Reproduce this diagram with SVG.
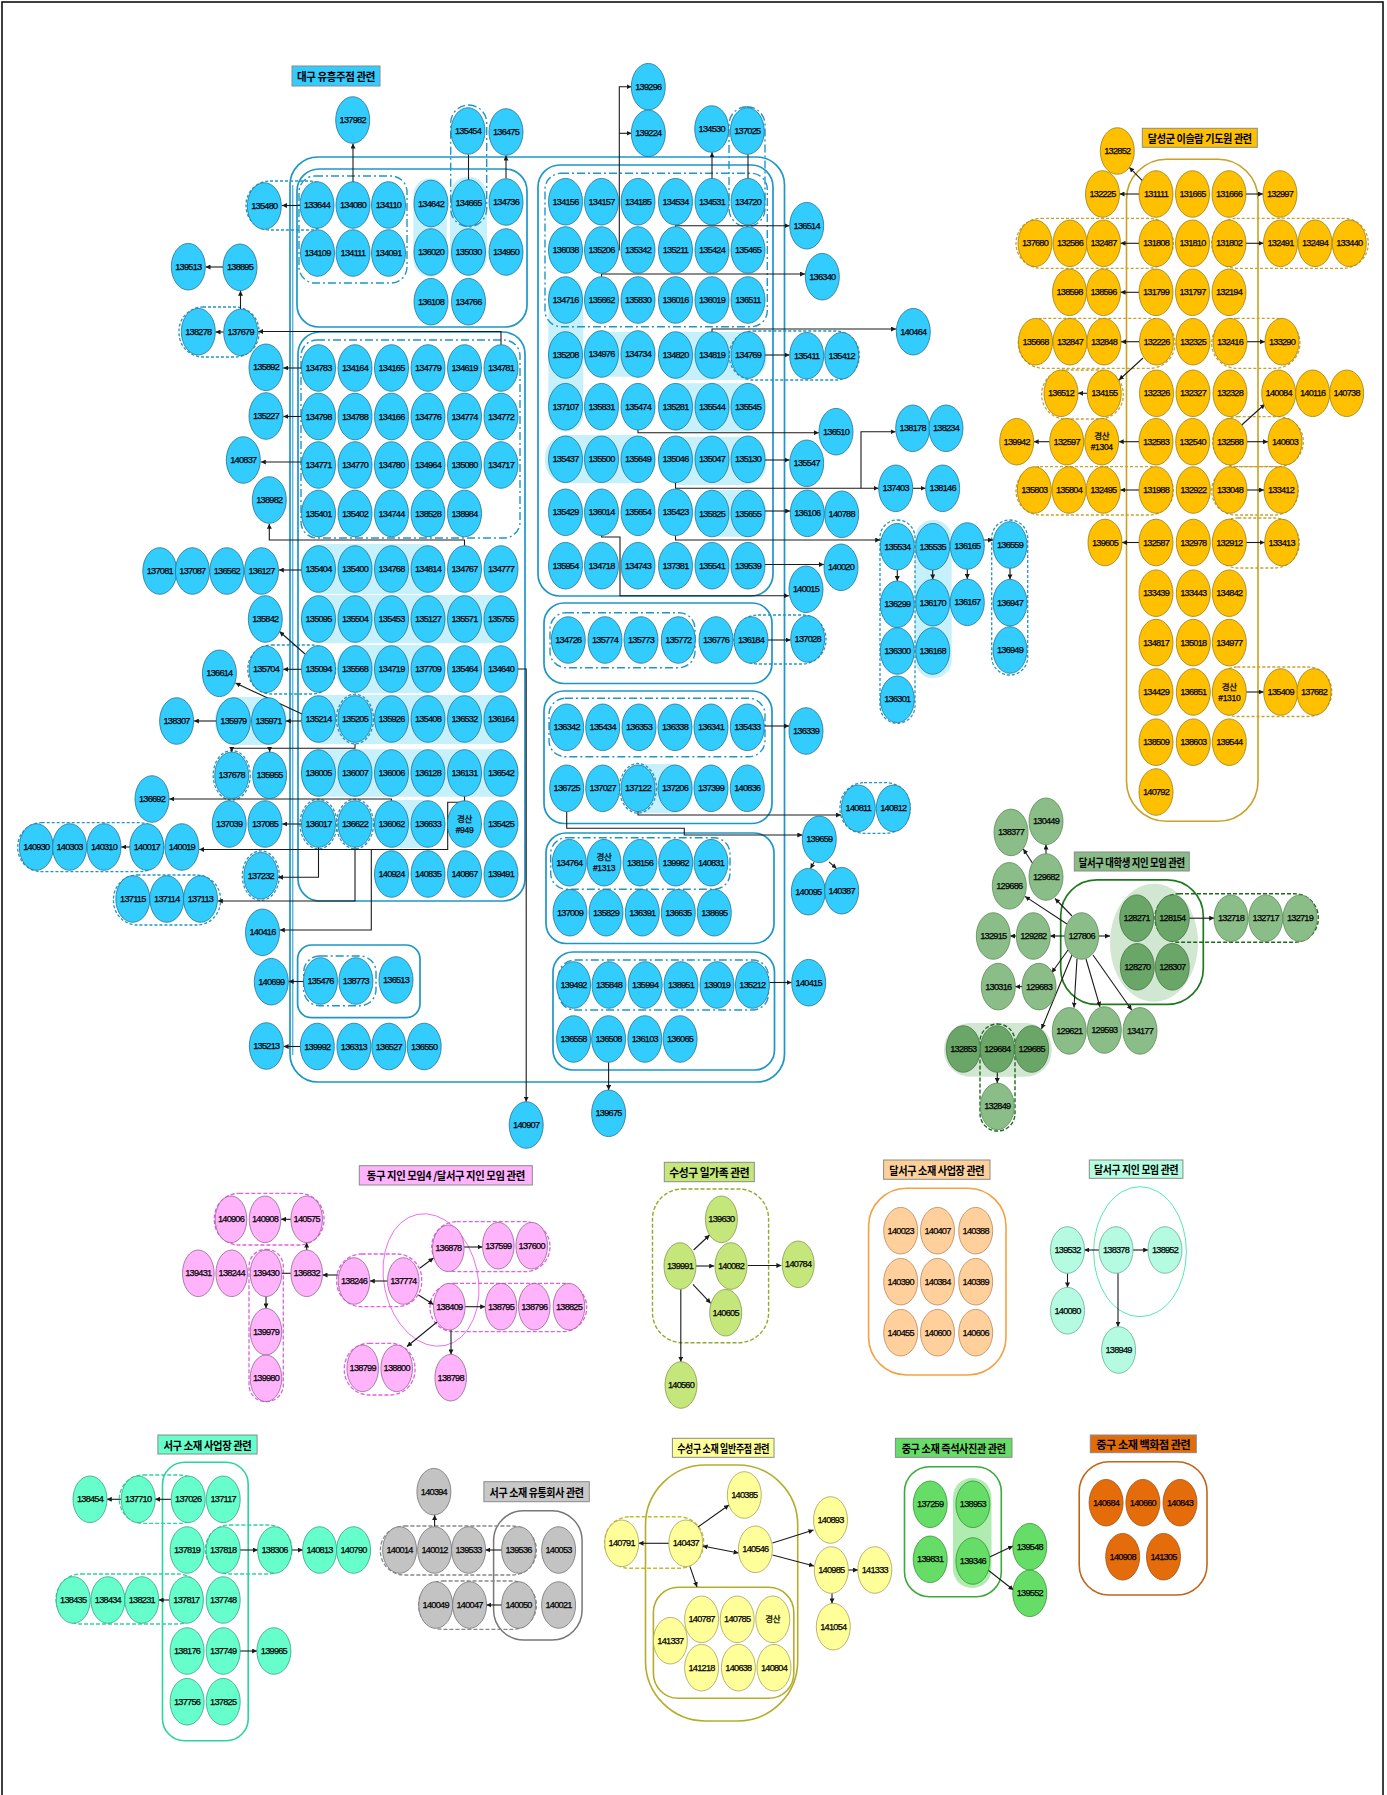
<svg xmlns="http://www.w3.org/2000/svg" width="1387" height="1795" viewBox="0 0 1387 1795">
<style>
text{font-family:"Liberation Sans","Noto Sans CJK KR",Arial,sans-serif;font-size:9.2px;letter-spacing:-0.75px;text-anchor:middle;dominant-baseline:central;fill:#000;stroke:#000;stroke-width:0.25px}
.t text{font-family:"Noto Sans CJK KR","Liberation Sans",sans-serif;font-size:11px;font-weight:700;letter-spacing:-0.4px;stroke:none}
.t rect{stroke:#8a8a8a;stroke-width:1}
.k{font-size:8.5px;letter-spacing:-0.3px}
ellipse{stroke-width:0.8}
.b ellipse{fill:#33ccff;stroke:#25728e}
.o ellipse{fill:#ffc000;stroke:#9a7e1a}
.g ellipse{fill:#8bbd88;stroke:#5a8a57}
.gd ellipse{fill:#6aa667;stroke:#467445}
.p ellipse{fill:#ffb3fb;stroke:#946494}
.yg ellipse{fill:#c5e67a;stroke:#849a46}
.pe ellipse{fill:#ffd09c;stroke:#b8885a}
.mi ellipse{fill:#b4fbe2;stroke:#64ae93}
.aq ellipse{fill:#66ffcc;stroke:#37a085}
.gr ellipse{fill:#c3c3c3;stroke:#737373}
.ye ellipse{fill:#ffff99;stroke:#a4a25a}
.gg ellipse{fill:#66dd66;stroke:#379137}
.br ellipse{fill:#e46c0a;stroke:#a05218}
.bs{fill:none;stroke:#1e96c8;stroke-width:1.7}
.bd{fill:none;stroke:#1e96c8;stroke-width:1.4;stroke-dasharray:8 3 2 3}
.bq{fill:none;stroke:#1e96c8;stroke-width:1.3;stroke-dasharray:3 2}
.sh{fill:#c6f1fc;stroke:none}
.od{fill:none;stroke:#c9a227;stroke-width:1.3;stroke-dasharray:3 2}
.pd{fill:none;stroke:#e65ce6;stroke-width:1.3;stroke-dasharray:4 2}
.ad{fill:none;stroke:#2ad69a;stroke-width:1.3;stroke-dasharray:4 2}
.gyd{fill:none;stroke:#888;stroke-width:1.3;stroke-dasharray:4 2}
.c{fill:none;stroke:#1a1a1a;stroke-width:1.1;marker-end:url(#a)}
.l{fill:none;stroke:#1a1a1a;stroke-width:1.1}
</style>
<defs>
<marker id="a" viewBox="0 0 6 6" refX="6" refY="3" markerWidth="5" markerHeight="5" orient="auto-start-reverse" markerUnits="userSpaceOnUse"><path d="M0,0L6,3L0,6z" fill="#1a1a1a"/></marker>
</defs>
<rect x="2" y="2" width="1381" height="1805" fill="#fff" stroke="#000" stroke-width="1.5"/>

<g id="groups">
<rect class="sh" x="413.3" y="178.3" width="33.4" height="98.4" rx="16.7"/>
<rect class="sh" x="450" y="176.7" width="37" height="98.3" rx="18"/>
<rect class="sh" x="300.4" y="544" width="144.5" height="50" rx="22"/>
<rect class="sh" x="300.4" y="595" width="218.2" height="48.3" rx="22"/>
<rect class="sh" x="336" y="645" width="109" height="48.3" rx="22"/>
<rect class="sh" x="300.4" y="695" width="218.2" height="49" rx="22"/>
<rect class="sh" x="300.4" y="749.3" width="218.2" height="47.4" rx="22"/>
<rect class="sh" x="373" y="800" width="72" height="48" rx="22"/>
<rect class="sh" x="215" y="697" width="72" height="48" rx="22"/>
<rect class="sh" x="548.3" y="276.7" width="35" height="155" rx="17.5"/>
<rect class="sh" x="583.3" y="331.7" width="70" height="45" rx="20"/>
<rect class="sh" x="658.3" y="331.7" width="108.4" height="48.3" rx="22"/>
<rect class="sh" x="658.3" y="383.3" width="106.7" height="48.4" rx="22"/>
<rect class="sh" x="545" y="435" width="110" height="48.3" rx="22"/>
<rect class="sh" x="658.3" y="436.7" width="108.4" height="48.3" rx="22"/>
<rect class="sh" x="696.7" y="490" width="70" height="46.7" rx="22"/>
<rect class="sh" x="621.7" y="764" width="71.6" height="49.3" rx="22"/>
<rect class="sh" x="915" y="520" width="36.7" height="158" rx="18"/>
<rect class="bs" x="290" y="157" width="494.5" height="925" rx="28"/>
<path d="M292.8 185V1055" fill="none" stroke="#1e96c8" stroke-width="1"/>
<rect class="bs" x="297" y="169" width="230" height="158" rx="22"/>
<rect class="bs" x="298" y="332" width="227" height="569" rx="22"/>
<rect class="bs" x="297.6" y="945" width="122.4" height="72.7" rx="14"/>
<rect class="bs" x="538" y="165" width="235" height="431" rx="22"/>
<rect class="bs" x="544" y="603" width="228" height="80.5" rx="20"/>
<rect class="bs" x="544" y="691" width="228" height="132.5" rx="20"/>
<rect class="bs" x="546" y="833" width="228" height="110.5" rx="20"/>
<rect class="bs" x="553" y="952" width="221.5" height="118" rx="20"/>
<rect class="bd" x="299" y="176" width="108" height="107" rx="16"/>
<rect class="bd" x="301" y="340" width="219" height="198" rx="16"/>
<rect class="bd" x="545" y="173.3" width="222.3" height="153.4" rx="16"/>
<rect class="bd" x="550" y="612.7" width="145" height="55" rx="16"/>
<rect class="bd" x="549" y="698.3" width="216" height="58.4" rx="16"/>
<rect class="bd" x="550.7" y="837.7" width="179.3" height="51.6" rx="16"/>
<rect class="bd" x="558.8" y="960" width="209.7" height="50" rx="16"/>
<rect class="bd" x="303.7" y="956" width="72.3" height="49.7" rx="16"/>
<rect class="bd" x="450.7" y="105" width="36" height="121.7" rx="18"/>
<rect class="bd" x="729" y="106.7" width="36" height="120" rx="18"/>
<rect class="bq" x="246" y="181" width="87" height="49" rx="24"/>
<rect class="bq" x="179" y="307" width="80" height="50" rx="24"/>
<rect class="bq" x="247.8" y="645" width="87.7" height="49" rx="24"/>
<rect class="bq" x="17.7" y="822.7" width="145.9" height="49" rx="24"/>
<rect class="bq" x="113.5" y="875" width="107" height="50" rx="24"/>
<rect class="bq" x="729.3" y="331" width="130" height="49" rx="24"/>
<rect class="bq" x="734" y="615" width="92" height="49" rx="24"/>
<rect class="bq" x="840" y="782.7" width="70" height="50.6" rx="24"/>
<rect class="bq" x="880" y="520" width="35" height="203.3" rx="17.5"/>
<rect class="bq" x="991.7" y="520" width="36" height="155" rx="18"/>
<ellipse class="bq" cx="355" cy="719" rx="18.5" ry="24.8"/>
<ellipse class="bq" cx="231.7" cy="775.3" rx="18.5" ry="24.8"/>
<ellipse class="bq" cx="318.5" cy="824" rx="18.5" ry="24.8"/>
<ellipse class="bq" cx="355" cy="824" rx="18.5" ry="24.8"/>
<ellipse class="bq" cx="260.8" cy="875.7" rx="18.5" ry="24.8"/>
<ellipse class="bq" cx="638" cy="788.3" rx="18.5" ry="24.8"/>
<rect x="1126.5" y="159.3" width="131.5" height="662" rx="40" fill="none" stroke="#c9a227" stroke-width="1.6"/>
<rect class="od" x="1016" y="218.3" width="157.3" height="50" rx="25"/>
<rect class="od" x="1211.7" y="218.3" width="156.6" height="50" rx="25"/>
<rect class="od" x="1018.3" y="318.3" width="156.7" height="50" rx="25"/>
<rect class="od" x="1211.7" y="318.3" width="88.3" height="50" rx="25"/>
<rect class="od" x="1041.7" y="370" width="81.6" height="49" rx="24"/>
<rect class="od" x="1212.7" y="416.7" width="90.6" height="50" rx="25"/>
<rect class="od" x="1016" y="466.7" width="157.3" height="48.3" rx="24"/>
<rect class="od" x="1211.7" y="466.7" width="86.6" height="48.3" rx="24"/>
<rect class="od" x="1213.3" y="518" width="86" height="50" rx="25"/>
<rect class="od" x="1213.3" y="667" width="118.4" height="49.5" rx="24"/>
<rect x="944" y="1023" width="107.7" height="53.7" rx="26" fill="#d2e7d1"/>
<ellipse cx="1154" cy="942.7" rx="44" ry="59" fill="#d2e7d1"/>
<rect x="1060.7" y="879.8" width="142.6" height="124.6" rx="36" fill="none" stroke="#1f7a1f" stroke-width="1.7"/>
<rect x="1155" y="893.7" width="163.3" height="48.6" rx="24" fill="none" stroke="#1a6b1a" stroke-width="1.4" stroke-dasharray="4 2"/>
<rect x="980" y="1024" width="35" height="107" rx="17.5" fill="none" stroke="#1a6b1a" stroke-width="1.4" stroke-dasharray="4 2"/>
<ellipse cx="431" cy="1280" rx="47" ry="67" fill="none" stroke="#ee55ee" stroke-width="1.5" transform="rotate(-12 431 1280)"/>
<rect class="pd" x="214.3" y="1193.3" width="109.7" height="51.7" rx="25"/>
<rect class="pd" x="249" y="1249.3" width="34.3" height="152.4" rx="17"/>
<rect class="pd" x="336.7" y="1254" width="85" height="52.7" rx="25"/>
<rect class="pd" x="431.7" y="1221.7" width="118.3" height="50" rx="25"/>
<rect class="pd" x="430" y="1283.3" width="156.7" height="48.4" rx="24"/>
<rect class="pd" x="344.3" y="1343.3" width="70.7" height="51.7" rx="25"/>
<rect x="652.5" y="1189" width="116.1" height="153.7" rx="30" fill="none" stroke="#8faa2a" stroke-width="1.4" stroke-dasharray="4 2"/>
<rect x="868.6" y="1188.3" width="137.4" height="186.7" rx="38" fill="none" stroke="#f5a142" stroke-width="1.6"/>
<ellipse cx="1140" cy="1251.7" rx="46.4" ry="65" fill="none" stroke="#22e69a" stroke-width="1.6"/>
<rect x="162.5" y="1462.3" width="85.7" height="278.4" rx="22" fill="none" stroke="#2ad69a" stroke-width="1.6"/>
<rect class="ad" x="119.3" y="1475" width="84.3" height="48.3" rx="24"/>
<rect class="ad" x="205.4" y="1525" width="86.4" height="49" rx="24"/>
<rect class="ad" x="56" y="1574" width="146.5" height="50" rx="25"/>
<rect x="493.6" y="1510.7" width="88.5" height="129.3" rx="30" fill="none" stroke="#777" stroke-width="1.5"/>
<rect class="gyd" x="380.4" y="1526" width="156" height="49" rx="24"/>
<rect class="gyd" x="418.6" y="1581" width="117.8" height="48.3" rx="24"/>
<rect x="645.5" y="1465" width="152.2" height="256" rx="60" fill="none" stroke="#b5ad2a" stroke-width="1.6"/>
<rect x="653.4" y="1587.3" width="140.4" height="111" rx="25" fill="none" stroke="#b5ad2a" stroke-width="1.6"/>
<rect x="604.7" y="1516.7" width="98.9" height="51.6" rx="25" fill="none" stroke="#c4bb2a" stroke-width="1.4" stroke-dasharray="4 2"/>
<rect x="953" y="1478" width="38.5" height="110" rx="19" fill="#b0ecb0"/>
<rect x="904.5" y="1466.7" width="96.8" height="130" rx="25" fill="none" stroke="#3aaa3a" stroke-width="1.6"/>
<rect x="1079.2" y="1461.7" width="127.8" height="133.3" rx="30" fill="none" stroke="#c0661a" stroke-width="1.6"/>
</g>

<g id="connectors">
<path class="c" d="M300 205.5H282"/>
<path class="c" d="M353 182V143.5"/>
<path class="l" d="M468.5 180V154.5"/>
<path class="c" d="M506 178.5V155.5"/>
<path class="c" d="M223 267H205.5"/>
<path class="c" d="M223.7 332H215.5"/>
<path class="c" d="M240.5 309V290.8"/>
<path class="c" d="M501 344.7V331.5H258.2"/>
<path class="c" d="M301.5 368H283.3"/>
<path class="c" d="M301.5 416.5H283.3"/>
<path class="c" d="M301.5 462H260.8"/>
<path class="c" d="M464.5 545.7V540H269.3V523.8"/>
<path class="c" d="M618.5 250H619.3V86.7H631.5"/>
<path class="c" d="M619.3 133.3H631.5"/>
<path class="c" d="M712 178.4V152.3"/>
<path class="l" d="M748 178.4V154.3"/>
<path class="c" d="M675.5 226.7V225.7H789.5"/>
<path class="c" d="M601.5 276.7V274H805"/>
<path class="c" d="M712 331.7V329H896"/>
<path class="c" d="M765 355H789.5"/>
<path class="c" d="M638 430V432.7H818.8"/>
<path class="c" d="M765 460H789.5"/>
<path class="c" d="M675.5 482.6V488.3H878.5"/>
<path class="c" d="M861 488.3V431.7H895.5"/>
<path class="c" d="M912.8 488.3H925.5"/>
<path class="c" d="M765 511H790.2"/>
<path class="c" d="M675.5 535.6V540H880.2"/>
<path class="c" d="M601.5 535.6V537H620V595.7H789"/>
<path class="c" d="M765 564.5H823.9"/>
<path class="c" d="M897.3 570V581"/>
<path class="c" d="M932.7 570V579.4"/>
<path class="c" d="M967.3 569.3V579"/>
<path class="c" d="M1010 568.3V579.4"/>
<path class="c" d="M984.2 540H993"/>
<path class="c" d="M768 640H790.7"/>
<path class="c" d="M764.3 726H789"/>
<path class="c" d="M638 811.6V815H841"/>
<path class="c" d="M566.7 811.6V828.3H684.3V835H802.3"/>
<path class="c" d="M814 862.3L810.5 868.6"/>
<path class="c" d="M829 861.8L836.5 868.6"/>
<path class="c" d="M769.4 982.5H791.7"/>
<path class="c" d="M608.6 1062.3V1090"/>
<path class="c" d="M518 669H526.2V1101.7"/>
<path class="c" d="M301.5 570H278.8"/>
<path class="c" d="M305 654L279.5 631.5"/>
<path class="c" d="M301.5 669.3H283.3"/>
<path class="c" d="M302 714L235.5 683"/>
<path class="c" d="M301.5 721H285.8"/>
<path class="c" d="M216.6 721H193.9"/>
<path class="c" d="M355 743.8V748.3H231.7V751.9"/>
<path class="c" d="M269.6 748.3V751.9"/>
<path class="c" d="M391.5 800.7V799H169.3"/>
<path class="c" d="M301.5 824H282.3"/>
<path class="c" d="M130 847H121.3"/>
<path class="c" d="M464.5 796.3V802.3H447.7V849.5H199.2"/>
<path class="c" d="M371.3 849.5V930H279.8"/>
<path class="c" d="M355 847.3V901H217.8"/>
<path class="c" d="M318.5 847.3V877.3H278.1"/>
<path class="c" d="M303.7 981.5H288.6"/>
<path class="c" d="M300.5 1046.5H283.6"/>
<path class="c" d="M1143.3 181.7L1129.3 167.3"/>
<path class="c" d="M1139 194H1119.5"/>
<path class="c" d="M1246 194H1263"/>
<path class="c" d="M1139 243.3H1120.5"/>
<path class="c" d="M1246 243.3H1263.5"/>
<path class="c" d="M1139 292.3H1120.5"/>
<path class="c" d="M1139.5 341.7H1121"/>
<path class="c" d="M1247 341.7H1265"/>
<path class="c" d="M1143 358L1119 380"/>
<path class="c" d="M1087.3 393.3H1078"/>
<path class="c" d="M1241.7 425L1265 404"/>
<path class="c" d="M1247 441.7H1268"/>
<path class="c" d="M1139 441.7H1118.7"/>
<path class="c" d="M1049.7 441.7H1033.7"/>
<path class="c" d="M1139 490H1120.3"/>
<path class="c" d="M1247 490H1264"/>
<path class="c" d="M1139 542.5H1122"/>
<path class="c" d="M1246.3 542.5H1264.7"/>
<path class="c" d="M1246.3 692H1263.7"/>
<path class="c" d="M1064.9 936H1050.1"/>
<path class="c" d="M1067 924L1025 896.4"/>
<path class="c" d="M1072 916L1055 898.5"/>
<path class="c" d="M1068 950L1051.7 972.7"/>
<path class="c" d="M1072 955L1041.5 1029"/>
<path class="c" d="M1077 959L1074 1007.6"/>
<path class="c" d="M1086 959L1100 1006.8"/>
<path class="c" d="M1093 955L1131.7 1010"/>
<path class="c" d="M1098.5 936H1110"/>
<path class="c" d="M1035 867L1023.3 849"/>
<path class="c" d="M1046 853.7V844.6"/>
<path class="c" d="M1016.5 936H1010.1"/>
<path class="c" d="M1022.2 986.6H1015.1"/>
<path class="c" d="M997.3 1072.3V1083.1"/>
<path class="c" d="M1189.1 918.2H1214.2"/>
<path class="c" d="M290.9 1219.3H281"/>
<path class="c" d="M306.7 1250V1242.6"/>
<path class="l" d="M290.9 1273.3H281.8"/>
<path class="c" d="M266 1296.6V1308.4"/>
<path class="c" d="M338.2 1275H322.5"/>
<path class="c" d="M387.5 1281H369.8"/>
<path class="c" d="M420 1268L433.5 1258"/>
<path class="c" d="M418.5 1295L433.5 1304.5"/>
<path class="c" d="M464.1 1247H482.5"/>
<path class="c" d="M465.1 1306.7H485.2"/>
<path class="c" d="M437 1322L407 1346.5"/>
<path class="c" d="M451 1330V1354.4"/>
<path class="c" d="M693.6 1250L709.6 1235"/>
<path class="c" d="M696 1266H714.2"/>
<path class="c" d="M692.9 1284.3L710.7 1303.3"/>
<path class="c" d="M747.8 1265.5H781.4"/>
<path class="c" d="M680.8 1289.3V1361.7"/>
<path class="c" d="M1099.2 1250H1084.3"/>
<path class="c" d="M1132.8 1250H1148.2"/>
<path class="c" d="M1067.5 1273.3V1287.4"/>
<path class="c" d="M1118 1273.3V1326.7"/>
<path class="c" d="M171.4 1499.3H155"/>
<path class="c" d="M121.4 1499.3H106.8"/>
<path class="c" d="M240 1550H257.8"/>
<path class="c" d="M291.4 1550H302.8"/>
<path class="c" d="M169.6 1600H158.6"/>
<path class="c" d="M240 1651H257.1"/>
<path class="c" d="M434.6 1526.7V1515"/>
<path class="c" d="M501.8 1550H485.4"/>
<path class="c" d="M501.8 1605H486.4"/>
<path class="c" d="M669 1543.3H638.5"/>
<path class="c" d="M698 1527L729 1505"/>
<path class="c" d="M702.6 1546L738.6 1553" marker-start="url(#a)"/>
<path class="c" d="M690 1566.6L697 1587"/>
<path class="c" d="M772.5 1543L813.5 1530"/>
<path class="c" d="M772.5 1555L814 1566"/>
<path class="c" d="M848 1570H858"/>
<path class="c" d="M832 1593.3V1603.4"/>
<path class="c" d="M989.7 1557L1013 1546"/>
<path class="c" d="M988 1570L1013.5 1590"/>
</g>

<g id="titles" class="t">
<g id="t1"><rect x="292" y="66" width="88" height="20" fill="#33ccff"/><text x="336" y="76" textLength="78" lengthAdjust="spacingAndGlyphs">대구 유흥주점 관련</text></g>
<g id="t2"><rect x="1142.3" y="128.3" width="115" height="19" fill="#ffc000"/><text x="1199.8" y="137.8" textLength="104" lengthAdjust="spacingAndGlyphs">달성군 이슬람 기도원 관련</text></g>
<g id="t3"><rect x="1074.3" y="852" width="115" height="19" fill="#88bb88"/><text x="1131.8" y="861.5" textLength="106" lengthAdjust="spacingAndGlyphs">달서구 대학생 지인 모임 관련</text></g>
<g id="t4"><rect x="359.3" y="1165.7" width="173" height="19.3" fill="#ffb3ff"/><text x="445.8" y="1175.3" textLength="158" lengthAdjust="spacingAndGlyphs">동구 지인 모임4 /달서구 지인 모임 관련</text></g>
<g id="t5"><rect x="664.3" y="1162.3" width="90" height="19.4" fill="#c5e67a"/><text x="709.3" y="1172" textLength="80" lengthAdjust="spacingAndGlyphs">수성구 일가족 관련</text></g>
<g id="t6"><rect x="883.6" y="1160" width="106.4" height="19.3" fill="#fdd09a"/><text x="936.8" y="1169.7" textLength="95" lengthAdjust="spacingAndGlyphs">달서구 소재 사업장 관련</text></g>
<g id="t7"><rect x="1089.3" y="1160" width="93.6" height="18.3" fill="#b3ffe0"/><text x="1136.1" y="1169.2" textLength="84" lengthAdjust="spacingAndGlyphs">달서구 지인 모임 관련</text></g>
<g id="t8"><rect x="157.9" y="1435" width="99.2" height="19" fill="#66ffcc"/><text x="207.5" y="1444.5" textLength="88" lengthAdjust="spacingAndGlyphs">서구 소재 사업장 관련</text></g>
<g id="t9"><rect x="483.9" y="1481.7" width="105.4" height="20" fill="#c8c8c8"/><text x="536.6" y="1491.7" textLength="94" lengthAdjust="spacingAndGlyphs">서구 소재 유통회사 관련</text></g>
<g id="t10"><rect x="672.4" y="1438.3" width="101.6" height="19" fill="#ffff99"/><text x="723.2" y="1447.8" textLength="92" lengthAdjust="spacingAndGlyphs">수성구 소재 일반주점 관련</text></g>
<g id="t11"><rect x="895.4" y="1438.3" width="116.6" height="19" fill="#66dd66"/><text x="953.7" y="1447.8" textLength="104" lengthAdjust="spacingAndGlyphs">중구 소재 즉석사진관 관련</text></g>
<g id="t12"><rect x="1090.3" y="1435" width="106" height="17.7" fill="#e36c0a"/><text x="1143.3" y="1443.8" textLength="94" lengthAdjust="spacingAndGlyphs">중구 소재 백화점 관련</text></g>
</g>

<g id="nodes-blue" class="b">
<g id="n133644"><ellipse cx="317" cy="205" rx="17" ry="23.3"/><text x="317" y="205">133644</text></g>
<g id="n134080"><ellipse cx="353" cy="205" rx="17" ry="23.3"/><text x="353" y="205">134080</text></g>
<g id="n134110"><ellipse cx="388.5" cy="205" rx="17" ry="23.3"/><text x="388.5" y="205">134110</text></g>
<g id="n134642"><ellipse cx="431" cy="203.5" rx="17" ry="23.3"/><text x="431" y="203.5">134642</text></g>
<g id="n134665"><ellipse cx="468.5" cy="203" rx="17" ry="23.3"/><text x="468.5" y="203">134665</text></g>
<g id="n134736"><ellipse cx="506" cy="202" rx="17" ry="23.3"/><text x="506" y="202">134736</text></g>
<g id="n134109"><ellipse cx="317.5" cy="253" rx="17" ry="23.3"/><text x="317.5" y="253">134109</text></g>
<g id="n134111"><ellipse cx="353" cy="253" rx="17" ry="23.3"/><text x="353" y="253">134111</text></g>
<g id="n134091"><ellipse cx="388.5" cy="253" rx="17" ry="23.3"/><text x="388.5" y="253">134091</text></g>
<g id="n136020"><ellipse cx="431" cy="252" rx="17" ry="23.3"/><text x="431" y="252">136020</text></g>
<g id="n135030"><ellipse cx="468.5" cy="252" rx="17" ry="23.3"/><text x="468.5" y="252">135030</text></g>
<g id="n134950"><ellipse cx="506" cy="252" rx="17" ry="23.3"/><text x="506" y="252">134950</text></g>
<g id="n136108"><ellipse cx="431" cy="301.7" rx="17" ry="23.3"/><text x="431" y="301.7">136108</text></g>
<g id="n134766"><ellipse cx="468.5" cy="301.7" rx="17" ry="23.3"/><text x="468.5" y="301.7">134766</text></g>
<g id="n137982"><ellipse cx="352.7" cy="120" rx="17" ry="23.3"/><text x="352.7" y="120">137982</text></g>
<g id="n135454"><ellipse cx="468" cy="131" rx="17" ry="23.3"/><text x="468" y="131">135454</text></g>
<g id="n136475"><ellipse cx="506" cy="132" rx="17" ry="23.3"/><text x="506" y="132">136475</text></g>
<g id="n135480"><ellipse cx="264.3" cy="206" rx="17" ry="23.3"/><text x="264.3" y="206">135480</text></g>
<g id="n139513"><ellipse cx="188.3" cy="266.7" rx="17" ry="23.3"/><text x="188.3" y="266.7">139513</text></g>
<g id="n138895"><ellipse cx="240" cy="267.3" rx="17" ry="23.3"/><text x="240" y="267.3">138895</text></g>
<g id="n138278"><ellipse cx="198.3" cy="331.7" rx="17" ry="23.3"/><text x="198.3" y="331.7">138278</text></g>
<g id="n137679"><ellipse cx="240.7" cy="332.3" rx="17" ry="23.3"/><text x="240.7" y="332.3">137679</text></g>
<g id="n135892"><ellipse cx="266" cy="367.3" rx="17" ry="23.3"/><text x="266" y="367.3">135892</text></g>
<g id="n135227"><ellipse cx="266" cy="416" rx="17" ry="23.3"/><text x="266" y="416">135227</text></g>
<g id="n140837"><ellipse cx="243.3" cy="460" rx="17" ry="23.3"/><text x="243.3" y="460">140837</text></g>
<g id="n138982"><ellipse cx="269.3" cy="500" rx="17" ry="23.3"/><text x="269.3" y="500">138982</text></g>
<g id="n134783"><ellipse cx="318.5" cy="368" rx="17" ry="23.3"/><text x="318.5" y="368">134783</text></g>
<g id="n134164"><ellipse cx="355" cy="368" rx="17" ry="23.3"/><text x="355" y="368">134164</text></g>
<g id="n134165"><ellipse cx="391.5" cy="368" rx="17" ry="23.3"/><text x="391.5" y="368">134165</text></g>
<g id="n134779"><ellipse cx="428" cy="368" rx="17" ry="23.3"/><text x="428" y="368">134779</text></g>
<g id="n134619"><ellipse cx="464.5" cy="368" rx="17" ry="23.3"/><text x="464.5" y="368">134619</text></g>
<g id="n134781"><ellipse cx="501" cy="368" rx="17" ry="23.3"/><text x="501" y="368">134781</text></g>
<g id="n134798"><ellipse cx="318.5" cy="416.5" rx="17" ry="23.3"/><text x="318.5" y="416.5">134798</text></g>
<g id="n134788"><ellipse cx="355" cy="416.5" rx="17" ry="23.3"/><text x="355" y="416.5">134788</text></g>
<g id="n134166"><ellipse cx="391.5" cy="416.5" rx="17" ry="23.3"/><text x="391.5" y="416.5">134166</text></g>
<g id="n134776"><ellipse cx="428" cy="416.5" rx="17" ry="23.3"/><text x="428" y="416.5">134776</text></g>
<g id="n134774"><ellipse cx="464.5" cy="416.5" rx="17" ry="23.3"/><text x="464.5" y="416.5">134774</text></g>
<g id="n134772"><ellipse cx="501" cy="416.5" rx="17" ry="23.3"/><text x="501" y="416.5">134772</text></g>
<g id="n134771"><ellipse cx="318.5" cy="465" rx="17" ry="23.3"/><text x="318.5" y="465">134771</text></g>
<g id="n134770"><ellipse cx="355" cy="465" rx="17" ry="23.3"/><text x="355" y="465">134770</text></g>
<g id="n134780"><ellipse cx="391.5" cy="465" rx="17" ry="23.3"/><text x="391.5" y="465">134780</text></g>
<g id="n134964"><ellipse cx="428" cy="465" rx="17" ry="23.3"/><text x="428" y="465">134964</text></g>
<g id="n135080"><ellipse cx="464.5" cy="465" rx="17" ry="23.3"/><text x="464.5" y="465">135080</text></g>
<g id="n134717"><ellipse cx="501" cy="465" rx="17" ry="23.3"/><text x="501" y="465">134717</text></g>
<g id="n135401"><ellipse cx="318.5" cy="513.5" rx="17" ry="23.3"/><text x="318.5" y="513.5">135401</text></g>
<g id="n135402"><ellipse cx="355" cy="513.5" rx="17" ry="23.3"/><text x="355" y="513.5">135402</text></g>
<g id="n134744"><ellipse cx="391.5" cy="513.5" rx="17" ry="23.3"/><text x="391.5" y="513.5">134744</text></g>
<g id="n138528"><ellipse cx="428" cy="513.5" rx="17" ry="23.3"/><text x="428" y="513.5">138528</text></g>
<g id="n138984"><ellipse cx="464.5" cy="513.5" rx="17" ry="23.3"/><text x="464.5" y="513.5">138984</text></g>
<g id="n135404"><ellipse cx="318.5" cy="569" rx="17" ry="23.3"/><text x="318.5" y="569">135404</text></g>
<g id="n135400"><ellipse cx="355" cy="569" rx="17" ry="23.3"/><text x="355" y="569">135400</text></g>
<g id="n134768"><ellipse cx="391.5" cy="569" rx="17" ry="23.3"/><text x="391.5" y="569">134768</text></g>
<g id="n134814"><ellipse cx="428" cy="569" rx="17" ry="23.3"/><text x="428" y="569">134814</text></g>
<g id="n134767"><ellipse cx="464.5" cy="569" rx="17" ry="23.3"/><text x="464.5" y="569">134767</text></g>
<g id="n134777"><ellipse cx="501" cy="569" rx="17" ry="23.3"/><text x="501" y="569">134777</text></g>
<g id="n135095"><ellipse cx="318.5" cy="619" rx="17" ry="23.3"/><text x="318.5" y="619">135095</text></g>
<g id="n135504"><ellipse cx="355" cy="619" rx="17" ry="23.3"/><text x="355" y="619">135504</text></g>
<g id="n135453"><ellipse cx="391.5" cy="619" rx="17" ry="23.3"/><text x="391.5" y="619">135453</text></g>
<g id="n135127"><ellipse cx="428" cy="619" rx="17" ry="23.3"/><text x="428" y="619">135127</text></g>
<g id="n135571"><ellipse cx="464.5" cy="619" rx="17" ry="23.3"/><text x="464.5" y="619">135571</text></g>
<g id="n135755"><ellipse cx="501" cy="619" rx="17" ry="23.3"/><text x="501" y="619">135755</text></g>
<g id="n135094"><ellipse cx="318.5" cy="669" rx="17" ry="23.3"/><text x="318.5" y="669">135094</text></g>
<g id="n135568"><ellipse cx="355" cy="669" rx="17" ry="23.3"/><text x="355" y="669">135568</text></g>
<g id="n134719"><ellipse cx="391.5" cy="669" rx="17" ry="23.3"/><text x="391.5" y="669">134719</text></g>
<g id="n137709"><ellipse cx="428" cy="669" rx="17" ry="23.3"/><text x="428" y="669">137709</text></g>
<g id="n135464"><ellipse cx="464.5" cy="669" rx="17" ry="23.3"/><text x="464.5" y="669">135464</text></g>
<g id="n134640"><ellipse cx="501" cy="669" rx="17" ry="23.3"/><text x="501" y="669">134640</text></g>
<g id="n135214"><ellipse cx="318.5" cy="719" rx="17" ry="23.3"/><text x="318.5" y="719">135214</text></g>
<g id="n135205"><ellipse cx="355" cy="719" rx="17" ry="23.3"/><text x="355" y="719">135205</text></g>
<g id="n135926"><ellipse cx="391.5" cy="719" rx="17" ry="23.3"/><text x="391.5" y="719">135926</text></g>
<g id="n135408"><ellipse cx="428" cy="719" rx="17" ry="23.3"/><text x="428" y="719">135408</text></g>
<g id="n136532"><ellipse cx="464.5" cy="719" rx="17" ry="23.3"/><text x="464.5" y="719">136532</text></g>
<g id="n136164"><ellipse cx="501" cy="719" rx="17" ry="23.3"/><text x="501" y="719">136164</text></g>
<g id="n136005"><ellipse cx="318.5" cy="773" rx="17" ry="23.3"/><text x="318.5" y="773">136005</text></g>
<g id="n136007"><ellipse cx="355" cy="773" rx="17" ry="23.3"/><text x="355" y="773">136007</text></g>
<g id="n136006"><ellipse cx="391.5" cy="773" rx="17" ry="23.3"/><text x="391.5" y="773">136006</text></g>
<g id="n136128"><ellipse cx="428" cy="773" rx="17" ry="23.3"/><text x="428" y="773">136128</text></g>
<g id="n136131"><ellipse cx="464.5" cy="773" rx="17" ry="23.3"/><text x="464.5" y="773">136131</text></g>
<g id="n136542"><ellipse cx="501" cy="773" rx="17" ry="23.3"/><text x="501" y="773">136542</text></g>
<g id="n136017"><ellipse cx="318.5" cy="824" rx="17" ry="23.3"/><text x="318.5" y="824">136017</text></g>
<g id="n136622"><ellipse cx="355" cy="824" rx="17" ry="23.3"/><text x="355" y="824">136622</text></g>
<g id="n136062"><ellipse cx="391.5" cy="824" rx="17" ry="23.3"/><text x="391.5" y="824">136062</text></g>
<g id="n136633"><ellipse cx="428" cy="824" rx="17" ry="23.3"/><text x="428" y="824">136633</text></g>
<g id="nks949"><ellipse cx="464.5" cy="824" rx="17" ry="23.3"/><text class="k" x="464.5" y="824"><tspan x="464.5" dy="-5.5">경산</tspan><tspan x="464.5" dy="11">#949</tspan></text></g>
<g id="n135425"><ellipse cx="501" cy="824" rx="17" ry="23.3"/><text x="501" y="824">135425</text></g>
<g id="n140924"><ellipse cx="391.5" cy="874" rx="17" ry="23.3"/><text x="391.5" y="874">140924</text></g>
<g id="n140835"><ellipse cx="428" cy="874" rx="17" ry="23.3"/><text x="428" y="874">140835</text></g>
<g id="n140867"><ellipse cx="464.5" cy="874" rx="17" ry="23.3"/><text x="464.5" y="874">140867</text></g>
<g id="n139491"><ellipse cx="501" cy="874" rx="17" ry="23.3"/><text x="501" y="874">139491</text></g>
<g id="n137081"><ellipse cx="159.8" cy="571" rx="17" ry="23.3"/><text x="159.8" y="571">137081</text></g>
<g id="n137087"><ellipse cx="192.4" cy="571" rx="17" ry="23.3"/><text x="192.4" y="571">137087</text></g>
<g id="n136562"><ellipse cx="226.8" cy="571" rx="17" ry="23.3"/><text x="226.8" y="571">136562</text></g>
<g id="n136127"><ellipse cx="261.5" cy="571" rx="17" ry="23.3"/><text x="261.5" y="571">136127</text></g>
<g id="n135842"><ellipse cx="265.3" cy="619" rx="17" ry="23.3"/><text x="265.3" y="619">135842</text></g>
<g id="n135704"><ellipse cx="266" cy="669.3" rx="17" ry="23.3"/><text x="266" y="669.3">135704</text></g>
<g id="n136614"><ellipse cx="219.4" cy="673.3" rx="17" ry="23.3"/><text x="219.4" y="673.3">136614</text></g>
<g id="n138307"><ellipse cx="176.6" cy="721" rx="17" ry="23.3"/><text x="176.6" y="721">138307</text></g>
<g id="n135979"><ellipse cx="233.4" cy="721" rx="17" ry="23.3"/><text x="233.4" y="721">135979</text></g>
<g id="n135971"><ellipse cx="268.5" cy="721" rx="17" ry="23.3"/><text x="268.5" y="721">135971</text></g>
<g id="n137678"><ellipse cx="231.7" cy="775.3" rx="17" ry="23.3"/><text x="231.7" y="775.3">137678</text></g>
<g id="n135955"><ellipse cx="269.6" cy="775.3" rx="17" ry="23.3"/><text x="269.6" y="775.3">135955</text></g>
<g id="n136692"><ellipse cx="152" cy="799" rx="17" ry="23.3"/><text x="152" y="799">136692</text></g>
<g id="n137039"><ellipse cx="229.2" cy="824" rx="17" ry="23.3"/><text x="229.2" y="824">137039</text></g>
<g id="n137085"><ellipse cx="265" cy="824" rx="17" ry="23.3"/><text x="265" y="824">137085</text></g>
<g id="n140930"><ellipse cx="36.3" cy="847" rx="17" ry="23.3"/><text x="36.3" y="847">140930</text></g>
<g id="n140303"><ellipse cx="69.6" cy="847" rx="17" ry="23.3"/><text x="69.6" y="847">140303</text></g>
<g id="n140310"><ellipse cx="104" cy="847" rx="17" ry="23.3"/><text x="104" y="847">140310</text></g>
<g id="n140017"><ellipse cx="146.8" cy="847" rx="17" ry="23.3"/><text x="146.8" y="847">140017</text></g>
<g id="n140019"><ellipse cx="181.9" cy="847" rx="17" ry="23.3"/><text x="181.9" y="847">140019</text></g>
<g id="n137232"><ellipse cx="260.8" cy="875.7" rx="17" ry="23.3"/><text x="260.8" y="875.7">137232</text></g>
<g id="n137115"><ellipse cx="132.8" cy="899" rx="17" ry="23.3"/><text x="132.8" y="899">137115</text></g>
<g id="n137114"><ellipse cx="166.8" cy="899" rx="17" ry="23.3"/><text x="166.8" y="899">137114</text></g>
<g id="n137113"><ellipse cx="200.5" cy="899" rx="17" ry="23.3"/><text x="200.5" y="899">137113</text></g>
<g id="n140416"><ellipse cx="262.5" cy="932.3" rx="17" ry="23.3"/><text x="262.5" y="932.3">140416</text></g>
<g id="n140699"><ellipse cx="271.3" cy="981.7" rx="17" ry="23.3"/><text x="271.3" y="981.7">140699</text></g>
<g id="n135476"><ellipse cx="320.5" cy="981" rx="17" ry="23.3"/><text x="320.5" y="981">135476</text></g>
<g id="n138773"><ellipse cx="355.9" cy="981" rx="17" ry="23.3"/><text x="355.9" y="981">138773</text></g>
<g id="n136513"><ellipse cx="396" cy="980" rx="17" ry="23.3"/><text x="396" y="980">136513</text></g>
<g id="n135213"><ellipse cx="266.3" cy="1046" rx="17" ry="23.3"/><text x="266.3" y="1046">135213</text></g>
<g id="n139992"><ellipse cx="317.3" cy="1046.5" rx="17" ry="23.3"/><text x="317.3" y="1046.5">139992</text></g>
<g id="n136313"><ellipse cx="353.9" cy="1046.5" rx="17" ry="23.3"/><text x="353.9" y="1046.5">136313</text></g>
<g id="n136527"><ellipse cx="388.8" cy="1046.5" rx="17" ry="23.3"/><text x="388.8" y="1046.5">136527</text></g>
<g id="n136550"><ellipse cx="424.2" cy="1046.5" rx="17" ry="23.3"/><text x="424.2" y="1046.5">136550</text></g>
<g id="n140907"><ellipse cx="526.2" cy="1125" rx="17" ry="23.3"/><text x="526.2" y="1125">140907</text></g>
<g id="n134156"><ellipse cx="565.5" cy="201.7" rx="17" ry="23.3"/><text x="565.5" y="201.7">134156</text></g>
<g id="n134157"><ellipse cx="601.5" cy="201.7" rx="17" ry="23.3"/><text x="601.5" y="201.7">134157</text></g>
<g id="n134185"><ellipse cx="638" cy="201.7" rx="17" ry="23.3"/><text x="638" y="201.7">134185</text></g>
<g id="n134534"><ellipse cx="675.5" cy="201.7" rx="17" ry="23.3"/><text x="675.5" y="201.7">134534</text></g>
<g id="n134531"><ellipse cx="712" cy="201.7" rx="17" ry="23.3"/><text x="712" y="201.7">134531</text></g>
<g id="n134720"><ellipse cx="748" cy="201.7" rx="17" ry="23.3"/><text x="748" y="201.7">134720</text></g>
<g id="n136038"><ellipse cx="565.5" cy="250" rx="17" ry="23.3"/><text x="565.5" y="250">136038</text></g>
<g id="n135206"><ellipse cx="601.5" cy="250" rx="17" ry="23.3"/><text x="601.5" y="250">135206</text></g>
<g id="n135342"><ellipse cx="638" cy="250" rx="17" ry="23.3"/><text x="638" y="250">135342</text></g>
<g id="n135211"><ellipse cx="675.5" cy="250" rx="17" ry="23.3"/><text x="675.5" y="250">135211</text></g>
<g id="n135424"><ellipse cx="712" cy="250" rx="17" ry="23.3"/><text x="712" y="250">135424</text></g>
<g id="n135465"><ellipse cx="748" cy="250" rx="17" ry="23.3"/><text x="748" y="250">135465</text></g>
<g id="n134716"><ellipse cx="565.5" cy="300" rx="17" ry="23.3"/><text x="565.5" y="300">134716</text></g>
<g id="n135662"><ellipse cx="601.5" cy="300" rx="17" ry="23.3"/><text x="601.5" y="300">135662</text></g>
<g id="n135830"><ellipse cx="638" cy="300" rx="17" ry="23.3"/><text x="638" y="300">135830</text></g>
<g id="n136016"><ellipse cx="675.5" cy="300" rx="17" ry="23.3"/><text x="675.5" y="300">136016</text></g>
<g id="n136019"><ellipse cx="712" cy="300" rx="17" ry="23.3"/><text x="712" y="300">136019</text></g>
<g id="n136511"><ellipse cx="748" cy="300" rx="17" ry="23.3"/><text x="748" y="300">136511</text></g>
<g id="n135208"><ellipse cx="565.5" cy="355" rx="17" ry="23.3"/><text x="565.5" y="355">135208</text></g>
<g id="n134976"><ellipse cx="601.5" cy="354" rx="17" ry="23.3"/><text x="601.5" y="354">134976</text></g>
<g id="n134734"><ellipse cx="638" cy="354" rx="17" ry="23.3"/><text x="638" y="354">134734</text></g>
<g id="n134820"><ellipse cx="675.5" cy="355" rx="17" ry="23.3"/><text x="675.5" y="355">134820</text></g>
<g id="n134819"><ellipse cx="712" cy="355" rx="17" ry="23.3"/><text x="712" y="355">134819</text></g>
<g id="n134769"><ellipse cx="748" cy="355" rx="17" ry="23.3"/><text x="748" y="355">134769</text></g>
<g id="n137107"><ellipse cx="565.5" cy="406.7" rx="17" ry="23.3"/><text x="565.5" y="406.7">137107</text></g>
<g id="n135831"><ellipse cx="601.5" cy="406.7" rx="17" ry="23.3"/><text x="601.5" y="406.7">135831</text></g>
<g id="n135474"><ellipse cx="638" cy="406.7" rx="17" ry="23.3"/><text x="638" y="406.7">135474</text></g>
<g id="n135281"><ellipse cx="675.5" cy="406.7" rx="17" ry="23.3"/><text x="675.5" y="406.7">135281</text></g>
<g id="n135544"><ellipse cx="712" cy="406.7" rx="17" ry="23.3"/><text x="712" y="406.7">135544</text></g>
<g id="n135545"><ellipse cx="748" cy="406.7" rx="17" ry="23.3"/><text x="748" y="406.7">135545</text></g>
<g id="n135437"><ellipse cx="565.5" cy="459.3" rx="17" ry="23.3"/><text x="565.5" y="459.3">135437</text></g>
<g id="n135500"><ellipse cx="601.5" cy="459.3" rx="17" ry="23.3"/><text x="601.5" y="459.3">135500</text></g>
<g id="n135649"><ellipse cx="638" cy="459.3" rx="17" ry="23.3"/><text x="638" y="459.3">135649</text></g>
<g id="n135046"><ellipse cx="675.5" cy="459.3" rx="17" ry="23.3"/><text x="675.5" y="459.3">135046</text></g>
<g id="n135047"><ellipse cx="712" cy="459.3" rx="17" ry="23.3"/><text x="712" y="459.3">135047</text></g>
<g id="n135130"><ellipse cx="748" cy="459.3" rx="17" ry="23.3"/><text x="748" y="459.3">135130</text></g>
<g id="n135429"><ellipse cx="565.5" cy="512.3" rx="17" ry="23.3"/><text x="565.5" y="512.3">135429</text></g>
<g id="n136014"><ellipse cx="601.5" cy="512.3" rx="17" ry="23.3"/><text x="601.5" y="512.3">136014</text></g>
<g id="n135654"><ellipse cx="638" cy="512.3" rx="17" ry="23.3"/><text x="638" y="512.3">135654</text></g>
<g id="n135423"><ellipse cx="675.5" cy="512.3" rx="17" ry="23.3"/><text x="675.5" y="512.3">135423</text></g>
<g id="n135825"><ellipse cx="712" cy="513.5" rx="17" ry="23.3"/><text x="712" y="513.5">135825</text></g>
<g id="n135655"><ellipse cx="748" cy="513.5" rx="17" ry="23.3"/><text x="748" y="513.5">135655</text></g>
<g id="n135954"><ellipse cx="565.5" cy="565.7" rx="17" ry="23.3"/><text x="565.5" y="565.7">135954</text></g>
<g id="n134718"><ellipse cx="601.5" cy="565.7" rx="17" ry="23.3"/><text x="601.5" y="565.7">134718</text></g>
<g id="n134743"><ellipse cx="638" cy="565.7" rx="17" ry="23.3"/><text x="638" y="565.7">134743</text></g>
<g id="n137381"><ellipse cx="675.5" cy="565.7" rx="17" ry="23.3"/><text x="675.5" y="565.7">137381</text></g>
<g id="n135541"><ellipse cx="712" cy="565.7" rx="17" ry="23.3"/><text x="712" y="565.7">135541</text></g>
<g id="n139539"><ellipse cx="748" cy="565.7" rx="17" ry="23.3"/><text x="748" y="565.7">139539</text></g>
<g id="n139296"><ellipse cx="648.3" cy="86.7" rx="17" ry="23.3"/><text x="648.3" y="86.7">139296</text></g>
<g id="n139224"><ellipse cx="648.3" cy="133.3" rx="17" ry="23.3"/><text x="648.3" y="133.3">139224</text></g>
<g id="n134530"><ellipse cx="711.7" cy="129" rx="17" ry="23.3"/><text x="711.7" y="129">134530</text></g>
<g id="n137025"><ellipse cx="747.3" cy="131" rx="17" ry="23.3"/><text x="747.3" y="131">137025</text></g>
<g id="n136514"><ellipse cx="806.7" cy="225.7" rx="17" ry="23.3"/><text x="806.7" y="225.7">136514</text></g>
<g id="n136340"><ellipse cx="822.3" cy="276.7" rx="17" ry="23.3"/><text x="822.3" y="276.7">136340</text></g>
<g id="n140464"><ellipse cx="913.3" cy="331.7" rx="17" ry="23.3"/><text x="913.3" y="331.7">140464</text></g>
<g id="n135411"><ellipse cx="806.7" cy="355.7" rx="17" ry="23.3"/><text x="806.7" y="355.7">135411</text></g>
<g id="n135412"><ellipse cx="841.7" cy="355.7" rx="17" ry="23.3"/><text x="841.7" y="355.7">135412</text></g>
<g id="n136510"><ellipse cx="836" cy="431.7" rx="17" ry="23.3"/><text x="836" y="431.7">136510</text></g>
<g id="n135547"><ellipse cx="806.7" cy="463.3" rx="17" ry="23.3"/><text x="806.7" y="463.3">135547</text></g>
<g id="n138178"><ellipse cx="912.7" cy="428.3" rx="17" ry="23.3"/><text x="912.7" y="428.3">138178</text></g>
<g id="n138234"><ellipse cx="946" cy="428.3" rx="17" ry="23.3"/><text x="946" y="428.3">138234</text></g>
<g id="n137403"><ellipse cx="895.7" cy="488.3" rx="17" ry="23.3"/><text x="895.7" y="488.3">137403</text></g>
<g id="n138146"><ellipse cx="942.7" cy="488.3" rx="17" ry="23.3"/><text x="942.7" y="488.3">138146</text></g>
<g id="n136106"><ellipse cx="807.3" cy="513.3" rx="17" ry="23.3"/><text x="807.3" y="513.3">136106</text></g>
<g id="n140788"><ellipse cx="841.7" cy="514.3" rx="17" ry="23.3"/><text x="841.7" y="514.3">140788</text></g>
<g id="n140020"><ellipse cx="841" cy="567.3" rx="17" ry="23.3"/><text x="841" y="567.3">140020</text></g>
<g id="n140015"><ellipse cx="806" cy="589.3" rx="17" ry="23.3"/><text x="806" y="589.3">140015</text></g>
<g id="n135534"><ellipse cx="897.3" cy="546.7" rx="17" ry="23.3"/><text x="897.3" y="546.7">135534</text></g>
<g id="n135535"><ellipse cx="932.7" cy="546.7" rx="17" ry="23.3"/><text x="932.7" y="546.7">135535</text></g>
<g id="n136165"><ellipse cx="967.3" cy="546" rx="17" ry="23.3"/><text x="967.3" y="546">136165</text></g>
<g id="n136559"><ellipse cx="1010" cy="545" rx="17" ry="23.3"/><text x="1010" y="545">136559</text></g>
<g id="n136299"><ellipse cx="897.3" cy="604.3" rx="17" ry="23.3"/><text x="897.3" y="604.3">136299</text></g>
<g id="n136170"><ellipse cx="932.7" cy="602.7" rx="17" ry="23.3"/><text x="932.7" y="602.7">136170</text></g>
<g id="n136167"><ellipse cx="967.3" cy="602.3" rx="17" ry="23.3"/><text x="967.3" y="602.3">136167</text></g>
<g id="n136947"><ellipse cx="1010" cy="602.7" rx="17" ry="23.3"/><text x="1010" y="602.7">136947</text></g>
<g id="n136300"><ellipse cx="897.3" cy="651" rx="17" ry="23.3"/><text x="897.3" y="651">136300</text></g>
<g id="n136168"><ellipse cx="932.7" cy="651" rx="17" ry="23.3"/><text x="932.7" y="651">136168</text></g>
<g id="n136949"><ellipse cx="1010" cy="650" rx="17" ry="23.3"/><text x="1010" y="650">136949</text></g>
<g id="n136301"><ellipse cx="897.3" cy="699.3" rx="17" ry="23.3"/><text x="897.3" y="699.3">136301</text></g>
<g id="n134726"><ellipse cx="568.3" cy="640" rx="17" ry="23.3"/><text x="568.3" y="640">134726</text></g>
<g id="n135774"><ellipse cx="605" cy="640" rx="17" ry="23.3"/><text x="605" y="640">135774</text></g>
<g id="n135773"><ellipse cx="641" cy="640" rx="17" ry="23.3"/><text x="641" y="640">135773</text></g>
<g id="n135772"><ellipse cx="678.3" cy="640" rx="17" ry="23.3"/><text x="678.3" y="640">135772</text></g>
<g id="n136776"><ellipse cx="716" cy="640" rx="17" ry="23.3"/><text x="716" y="640">136776</text></g>
<g id="n136184"><ellipse cx="751" cy="640" rx="17" ry="23.3"/><text x="751" y="640">136184</text></g>
<g id="n137028"><ellipse cx="807.7" cy="639" rx="17" ry="23.3"/><text x="807.7" y="639">137028</text></g>
<g id="n136342"><ellipse cx="566.7" cy="727.3" rx="17" ry="23.3"/><text x="566.7" y="727.3">136342</text></g>
<g id="n135434"><ellipse cx="602.7" cy="727.3" rx="17" ry="23.3"/><text x="602.7" y="727.3">135434</text></g>
<g id="n136353"><ellipse cx="639" cy="727.3" rx="17" ry="23.3"/><text x="639" y="727.3">136353</text></g>
<g id="n136338"><ellipse cx="675" cy="727.3" rx="17" ry="23.3"/><text x="675" y="727.3">136338</text></g>
<g id="n136341"><ellipse cx="711" cy="727.3" rx="17" ry="23.3"/><text x="711" y="727.3">136341</text></g>
<g id="n135433"><ellipse cx="747.3" cy="727.3" rx="17" ry="23.3"/><text x="747.3" y="727.3">135433</text></g>
<g id="n136339"><ellipse cx="806" cy="731" rx="17" ry="23.3"/><text x="806" y="731">136339</text></g>
<g id="n136725"><ellipse cx="566.7" cy="788.3" rx="17" ry="23.3"/><text x="566.7" y="788.3">136725</text></g>
<g id="n137027"><ellipse cx="602.7" cy="788.3" rx="17" ry="23.3"/><text x="602.7" y="788.3">137027</text></g>
<g id="n137122"><ellipse cx="638" cy="788.3" rx="17" ry="23.3"/><text x="638" y="788.3">137122</text></g>
<g id="n137206"><ellipse cx="675" cy="788.3" rx="17" ry="23.3"/><text x="675" y="788.3">137206</text></g>
<g id="n137399"><ellipse cx="711" cy="788.3" rx="17" ry="23.3"/><text x="711" y="788.3">137399</text></g>
<g id="n140836"><ellipse cx="747.3" cy="788.3" rx="17" ry="23.3"/><text x="747.3" y="788.3">140836</text></g>
<g id="n140811"><ellipse cx="858.3" cy="808.3" rx="17" ry="23.3"/><text x="858.3" y="808.3">140811</text></g>
<g id="n140812"><ellipse cx="893.3" cy="808.3" rx="17" ry="23.3"/><text x="893.3" y="808.3">140812</text></g>
<g id="n139659"><ellipse cx="819.3" cy="839.3" rx="17" ry="23.3"/><text x="819.3" y="839.3">139659</text></g>
<g id="n140095"><ellipse cx="808.3" cy="891.7" rx="17" ry="23.3"/><text x="808.3" y="891.7">140095</text></g>
<g id="n140387"><ellipse cx="841.7" cy="890.7" rx="17" ry="23.3"/><text x="841.7" y="890.7">140387</text></g>
<g id="n134764"><ellipse cx="569.3" cy="862.7" rx="17" ry="23.3"/><text x="569.3" y="862.7">134764</text></g>
<g id="nks1313"><ellipse cx="604" cy="862.7" rx="17" ry="23.3"/><text class="k" x="604" y="862.7"><tspan x="604" dy="-5.5">경산</tspan><tspan x="604" dy="11">#1313</tspan></text></g>
<g id="n138156"><ellipse cx="640" cy="862.7" rx="17" ry="23.3"/><text x="640" y="862.7">138156</text></g>
<g id="n139982"><ellipse cx="675.7" cy="862.7" rx="17" ry="23.3"/><text x="675.7" y="862.7">139982</text></g>
<g id="n140831"><ellipse cx="711" cy="862.7" rx="17" ry="23.3"/><text x="711" y="862.7">140831</text></g>
<g id="n137009"><ellipse cx="570" cy="912.7" rx="17" ry="23.3"/><text x="570" y="912.7">137009</text></g>
<g id="n135829"><ellipse cx="606" cy="912.7" rx="17" ry="23.3"/><text x="606" y="912.7">135829</text></g>
<g id="n136391"><ellipse cx="642.3" cy="912.7" rx="17" ry="23.3"/><text x="642.3" y="912.7">136391</text></g>
<g id="n136635"><ellipse cx="678.3" cy="912.7" rx="17" ry="23.3"/><text x="678.3" y="912.7">136635</text></g>
<g id="n138695"><ellipse cx="714.3" cy="912.7" rx="17" ry="23.3"/><text x="714.3" y="912.7">138695</text></g>
<g id="n139492"><ellipse cx="573.6" cy="985" rx="17" ry="23.3"/><text x="573.6" y="985">139492</text></g>
<g id="n135848"><ellipse cx="609" cy="985" rx="17" ry="23.3"/><text x="609" y="985">135848</text></g>
<g id="n135994"><ellipse cx="645.2" cy="985" rx="17" ry="23.3"/><text x="645.2" y="985">135994</text></g>
<g id="n138951"><ellipse cx="681" cy="985" rx="17" ry="23.3"/><text x="681" y="985">138951</text></g>
<g id="n139019"><ellipse cx="717" cy="985" rx="17" ry="23.3"/><text x="717" y="985">139019</text></g>
<g id="n135212"><ellipse cx="752.4" cy="985" rx="17" ry="23.3"/><text x="752.4" y="985">135212</text></g>
<g id="n140415"><ellipse cx="808.7" cy="982.7" rx="17" ry="23.3"/><text x="808.7" y="982.7">140415</text></g>
<g id="n136558"><ellipse cx="573.6" cy="1039" rx="17" ry="23.3"/><text x="573.6" y="1039">136558</text></g>
<g id="n136508"><ellipse cx="608.6" cy="1039" rx="17" ry="23.3"/><text x="608.6" y="1039">136508</text></g>
<g id="n136103"><ellipse cx="644.8" cy="1039" rx="17" ry="23.3"/><text x="644.8" y="1039">136103</text></g>
<g id="n136065"><ellipse cx="680.1" cy="1039" rx="17" ry="23.3"/><text x="680.1" y="1039">136065</text></g>
<g id="n139675"><ellipse cx="608.6" cy="1113.3" rx="17" ry="23.3"/><text x="608.6" y="1113.3">139675</text></g>
</g>

<g id="nodes-orange" class="o">
<g id="n132852"><ellipse cx="1117.3" cy="151" rx="17" ry="23.3"/><text x="1117.3" y="151">132852</text></g>
<g id="n132225"><ellipse cx="1102.5" cy="194" rx="17" ry="23.3"/><text x="1102.5" y="194">132225</text></g>
<g id="n131111"><ellipse cx="1156" cy="194" rx="17" ry="23.3"/><text x="1156" y="194">131111</text></g>
<g id="n131665"><ellipse cx="1192.5" cy="194" rx="17" ry="23.3"/><text x="1192.5" y="194">131665</text></g>
<g id="n131666"><ellipse cx="1229" cy="194" rx="17" ry="23.3"/><text x="1229" y="194">131666</text></g>
<g id="n132997"><ellipse cx="1280" cy="194" rx="17" ry="23.3"/><text x="1280" y="194">132997</text></g>
<g id="n137680"><ellipse cx="1035" cy="243.3" rx="17" ry="23.3"/><text x="1035" y="243.3">137680</text></g>
<g id="n132586"><ellipse cx="1070" cy="243.3" rx="17" ry="23.3"/><text x="1070" y="243.3">132586</text></g>
<g id="n132487"><ellipse cx="1103.5" cy="243.3" rx="17" ry="23.3"/><text x="1103.5" y="243.3">132487</text></g>
<g id="n131808"><ellipse cx="1156" cy="243.3" rx="17" ry="23.3"/><text x="1156" y="243.3">131808</text></g>
<g id="n131810"><ellipse cx="1192.5" cy="243.3" rx="17" ry="23.3"/><text x="1192.5" y="243.3">131810</text></g>
<g id="n131802"><ellipse cx="1229" cy="243.3" rx="17" ry="23.3"/><text x="1229" y="243.3">131802</text></g>
<g id="n132491"><ellipse cx="1280.5" cy="243.3" rx="17" ry="23.3"/><text x="1280.5" y="243.3">132491</text></g>
<g id="n132494"><ellipse cx="1315" cy="243.3" rx="17" ry="23.3"/><text x="1315" y="243.3">132494</text></g>
<g id="n133440"><ellipse cx="1349.3" cy="243.3" rx="17" ry="23.3"/><text x="1349.3" y="243.3">133440</text></g>
<g id="n138598"><ellipse cx="1069.5" cy="292.3" rx="17" ry="23.3"/><text x="1069.5" y="292.3">138598</text></g>
<g id="n138596"><ellipse cx="1103.5" cy="292.3" rx="17" ry="23.3"/><text x="1103.5" y="292.3">138596</text></g>
<g id="n131799"><ellipse cx="1156" cy="292.3" rx="17" ry="23.3"/><text x="1156" y="292.3">131799</text></g>
<g id="n131797"><ellipse cx="1192.5" cy="292.3" rx="17" ry="23.3"/><text x="1192.5" y="292.3">131797</text></g>
<g id="n132194"><ellipse cx="1229" cy="292.3" rx="17" ry="23.3"/><text x="1229" y="292.3">132194</text></g>
<g id="n135668"><ellipse cx="1035.5" cy="341.7" rx="17" ry="23.3"/><text x="1035.5" y="341.7">135668</text></g>
<g id="n132847"><ellipse cx="1070" cy="341.7" rx="17" ry="23.3"/><text x="1070" y="341.7">132847</text></g>
<g id="n132848"><ellipse cx="1104" cy="341.7" rx="17" ry="23.3"/><text x="1104" y="341.7">132848</text></g>
<g id="n132226"><ellipse cx="1156.5" cy="341.7" rx="17" ry="23.3"/><text x="1156.5" y="341.7">132226</text></g>
<g id="n132325"><ellipse cx="1193" cy="341.7" rx="17" ry="23.3"/><text x="1193" y="341.7">132325</text></g>
<g id="n132416"><ellipse cx="1230" cy="341.7" rx="17" ry="23.3"/><text x="1230" y="341.7">132416</text></g>
<g id="n133290"><ellipse cx="1282" cy="341.7" rx="17" ry="23.3"/><text x="1282" y="341.7">133290</text></g>
<g id="n136512"><ellipse cx="1061" cy="393.3" rx="17" ry="23.3"/><text x="1061" y="393.3">136512</text></g>
<g id="n134155"><ellipse cx="1104.3" cy="393.3" rx="17" ry="23.3"/><text x="1104.3" y="393.3">134155</text></g>
<g id="n132326"><ellipse cx="1156.5" cy="393.3" rx="17" ry="23.3"/><text x="1156.5" y="393.3">132326</text></g>
<g id="n132327"><ellipse cx="1193" cy="393.3" rx="17" ry="23.3"/><text x="1193" y="393.3">132327</text></g>
<g id="n132328"><ellipse cx="1230" cy="393.3" rx="17" ry="23.3"/><text x="1230" y="393.3">132328</text></g>
<g id="n140084"><ellipse cx="1278.7" cy="393.3" rx="17" ry="23.3"/><text x="1278.7" y="393.3">140084</text></g>
<g id="n140116"><ellipse cx="1312.7" cy="393.3" rx="17" ry="23.3"/><text x="1312.7" y="393.3">140116</text></g>
<g id="n140738"><ellipse cx="1346.7" cy="393.3" rx="17" ry="23.3"/><text x="1346.7" y="393.3">140738</text></g>
<g id="n139942"><ellipse cx="1016.7" cy="441.7" rx="17" ry="23.3"/><text x="1016.7" y="441.7">139942</text></g>
<g id="n132597"><ellipse cx="1066.7" cy="441.7" rx="17" ry="23.3"/><text x="1066.7" y="441.7">132597</text></g>
<g id="nks1304"><ellipse cx="1101.7" cy="441.7" rx="17" ry="23.3"/><text class="k" x="1101.7" y="441.7"><tspan x="1101.7" dy="-5.5">경산</tspan><tspan x="1101.7" dy="11">#1304</tspan></text></g>
<g id="n132583"><ellipse cx="1156" cy="441.7" rx="17" ry="23.3"/><text x="1156" y="441.7">132583</text></g>
<g id="n132540"><ellipse cx="1192.7" cy="441.7" rx="17" ry="23.3"/><text x="1192.7" y="441.7">132540</text></g>
<g id="n132588"><ellipse cx="1230" cy="441.7" rx="17" ry="23.3"/><text x="1230" y="441.7">132588</text></g>
<g id="n140603"><ellipse cx="1285" cy="441.7" rx="17" ry="23.3"/><text x="1285" y="441.7">140603</text></g>
<g id="n135803"><ellipse cx="1034.3" cy="490" rx="17" ry="23.3"/><text x="1034.3" y="490">135803</text></g>
<g id="n135804"><ellipse cx="1069" cy="490" rx="17" ry="23.3"/><text x="1069" y="490">135804</text></g>
<g id="n132495"><ellipse cx="1103.3" cy="490" rx="17" ry="23.3"/><text x="1103.3" y="490">132495</text></g>
<g id="n131988"><ellipse cx="1156" cy="490" rx="17" ry="23.3"/><text x="1156" y="490">131988</text></g>
<g id="n132922"><ellipse cx="1193.3" cy="490" rx="17" ry="23.3"/><text x="1193.3" y="490">132922</text></g>
<g id="n133048"><ellipse cx="1230" cy="490" rx="17" ry="23.3"/><text x="1230" y="490">133048</text></g>
<g id="n133412"><ellipse cx="1281" cy="490" rx="17" ry="23.3"/><text x="1281" y="490">133412</text></g>
<g id="n139605"><ellipse cx="1105" cy="542.5" rx="17" ry="23.3"/><text x="1105" y="542.5">139605</text></g>
<g id="n132587"><ellipse cx="1156" cy="542.5" rx="17" ry="23.3"/><text x="1156" y="542.5">132587</text></g>
<g id="n132978"><ellipse cx="1193.3" cy="542.5" rx="17" ry="23.3"/><text x="1193.3" y="542.5">132978</text></g>
<g id="n132912"><ellipse cx="1229.3" cy="542.5" rx="17" ry="23.3"/><text x="1229.3" y="542.5">132912</text></g>
<g id="n133413"><ellipse cx="1281.7" cy="542.5" rx="17" ry="23.3"/><text x="1281.7" y="542.5">133413</text></g>
<g id="n133439"><ellipse cx="1156" cy="593.2" rx="17" ry="23.3"/><text x="1156" y="593.2">133439</text></g>
<g id="n133443"><ellipse cx="1193.3" cy="593.2" rx="17" ry="23.3"/><text x="1193.3" y="593.2">133443</text></g>
<g id="n134842"><ellipse cx="1229.3" cy="593.2" rx="17" ry="23.3"/><text x="1229.3" y="593.2">134842</text></g>
<g id="n134817"><ellipse cx="1156" cy="642.6" rx="17" ry="23.3"/><text x="1156" y="642.6">134817</text></g>
<g id="n135018"><ellipse cx="1193.3" cy="642.6" rx="17" ry="23.3"/><text x="1193.3" y="642.6">135018</text></g>
<g id="n134977"><ellipse cx="1229.3" cy="642.6" rx="17" ry="23.3"/><text x="1229.3" y="642.6">134977</text></g>
<g id="n134429"><ellipse cx="1156" cy="692" rx="17" ry="23.3"/><text x="1156" y="692">134429</text></g>
<g id="n136851"><ellipse cx="1193.3" cy="692" rx="17" ry="23.3"/><text x="1193.3" y="692">136851</text></g>
<g id="nks1310"><ellipse cx="1229.3" cy="692" rx="17" ry="23.3"/><text class="k" x="1229.3" y="692"><tspan x="1229.3" dy="-5.5">경산</tspan><tspan x="1229.3" dy="11">#1310</tspan></text></g>
<g id="n135409"><ellipse cx="1280.7" cy="692" rx="17" ry="23.3"/><text x="1280.7" y="692">135409</text></g>
<g id="n137682"><ellipse cx="1314" cy="692" rx="17" ry="23.3"/><text x="1314" y="692">137682</text></g>
<g id="n138509"><ellipse cx="1156" cy="742.2" rx="17" ry="23.3"/><text x="1156" y="742.2">138509</text></g>
<g id="n138603"><ellipse cx="1193.3" cy="742.2" rx="17" ry="23.3"/><text x="1193.3" y="742.2">138603</text></g>
<g id="n139544"><ellipse cx="1229.3" cy="742.2" rx="17" ry="23.3"/><text x="1229.3" y="742.2">139544</text></g>
<g id="n140792"><ellipse cx="1156" cy="792" rx="17" ry="23.3"/><text x="1156" y="792">140792</text></g>
</g>

<g id="nodes-green">
<g class="g">
<g id="n138377"><ellipse cx="1011" cy="832.4" rx="17" ry="23.3"/><text x="1011" y="832.4">138377</text></g>
<g id="n130449"><ellipse cx="1046" cy="821.3" rx="17" ry="23.3"/><text x="1046" y="821.3">130449</text></g>
<g id="n129682"><ellipse cx="1046" cy="877" rx="17" ry="23.3"/><text x="1046" y="877">129682</text></g>
<g id="n129686"><ellipse cx="1009.3" cy="885.8" rx="17" ry="23.3"/><text x="1009.3" y="885.8">129686</text></g>
<g id="n132915"><ellipse cx="993.3" cy="936" rx="17" ry="23.3"/><text x="993.3" y="936">132915</text></g>
<g id="n129282"><ellipse cx="1033.3" cy="936" rx="17" ry="23.3"/><text x="1033.3" y="936">129282</text></g>
<g id="n127806"><ellipse cx="1081.7" cy="936" rx="17" ry="23.3"/><text x="1081.7" y="936">127806</text></g>
<g id="n130316"><ellipse cx="998.3" cy="986.6" rx="17" ry="23.3"/><text x="998.3" y="986.6">130316</text></g>
<g id="n129683"><ellipse cx="1039" cy="986.6" rx="17" ry="23.3"/><text x="1039" y="986.6">129683</text></g>
<g id="n129621"><ellipse cx="1069.3" cy="1030.9" rx="17" ry="23.3"/><text x="1069.3" y="1030.9">129621</text></g>
<g id="n129593"><ellipse cx="1104.3" cy="1030" rx="17" ry="23.3"/><text x="1104.3" y="1030">129593</text></g>
<g id="n134177"><ellipse cx="1140" cy="1030.9" rx="17" ry="23.3"/><text x="1140" y="1030.9">134177</text></g>
<g id="n132849"><ellipse cx="997.3" cy="1106.4" rx="17" ry="23.3"/><text x="997.3" y="1106.4">132849</text></g>
<g id="n132718"><ellipse cx="1231" cy="918.2" rx="17" ry="23.3"/><text x="1231" y="918.2">132718</text></g>
<g id="n132717"><ellipse cx="1265.7" cy="918.2" rx="17" ry="23.3"/><text x="1265.7" y="918.2">132717</text></g>
<g id="n132719"><ellipse cx="1300" cy="918.2" rx="17" ry="23.3"/><text x="1300" y="918.2">132719</text></g>
</g>
<g class="gd">
<g id="n128271"><ellipse cx="1136.7" cy="918.2" rx="17" ry="23.3"/><text x="1136.7" y="918.2">128271</text></g>
<g id="n128154"><ellipse cx="1172.3" cy="918.2" rx="17" ry="23.3"/><text x="1172.3" y="918.2">128154</text></g>
<g id="n128270"><ellipse cx="1137.3" cy="966.8" rx="17" ry="23.3"/><text x="1137.3" y="966.8">128270</text></g>
<g id="n128307"><ellipse cx="1172.3" cy="966.8" rx="17" ry="23.3"/><text x="1172.3" y="966.8">128307</text></g>
<g id="n132853"><ellipse cx="963.3" cy="1049" rx="17" ry="23.3"/><text x="963.3" y="1049">132853</text></g>
<g id="n129684"><ellipse cx="997.3" cy="1049" rx="17" ry="23.3"/><text x="997.3" y="1049">129684</text></g>
<g id="n129685"><ellipse cx="1031.7" cy="1049" rx="17" ry="23.3"/><text x="1031.7" y="1049">129685</text></g>
</g>
</g>

<g id="nodes-pink" class="p">
<g id="n140906"><ellipse cx="231" cy="1219.3" rx="15.8" ry="23.3"/><text x="231" y="1219.3">140906</text></g>
<g id="n140908"><ellipse cx="265" cy="1219.3" rx="15.8" ry="23.3"/><text x="265" y="1219.3">140908</text></g>
<g id="n140575"><ellipse cx="306.7" cy="1219.3" rx="15.8" ry="23.3"/><text x="306.7" y="1219.3">140575</text></g>
<g id="n139431"><ellipse cx="198.3" cy="1273.3" rx="15.8" ry="23.3"/><text x="198.3" y="1273.3">139431</text></g>
<g id="n138244"><ellipse cx="231.7" cy="1273.3" rx="15.8" ry="23.3"/><text x="231.7" y="1273.3">138244</text></g>
<g id="n139430"><ellipse cx="266" cy="1273.3" rx="15.8" ry="23.3"/><text x="266" y="1273.3">139430</text></g>
<g id="n136832"><ellipse cx="306.7" cy="1273.3" rx="15.8" ry="23.3"/><text x="306.7" y="1273.3">136832</text></g>
<g id="n139979"><ellipse cx="266" cy="1331.7" rx="15.8" ry="23.3"/><text x="266" y="1331.7">139979</text></g>
<g id="n139980"><ellipse cx="266" cy="1378.3" rx="15.8" ry="23.3"/><text x="266" y="1378.3">139980</text></g>
<g id="n138246"><ellipse cx="354" cy="1281" rx="15.8" ry="23.3"/><text x="354" y="1281">138246</text></g>
<g id="n137774"><ellipse cx="403.3" cy="1281" rx="15.8" ry="23.3"/><text x="403.3" y="1281">137774</text></g>
<g id="n136878"><ellipse cx="448.3" cy="1248.3" rx="15.8" ry="23.3"/><text x="448.3" y="1248.3">136878</text></g>
<g id="n137599"><ellipse cx="498.3" cy="1245.7" rx="15.8" ry="23.3"/><text x="498.3" y="1245.7">137599</text></g>
<g id="n137600"><ellipse cx="531.7" cy="1245.7" rx="15.8" ry="23.3"/><text x="531.7" y="1245.7">137600</text></g>
<g id="n138409"><ellipse cx="449.3" cy="1306.7" rx="15.8" ry="23.3"/><text x="449.3" y="1306.7">138409</text></g>
<g id="n138795"><ellipse cx="501" cy="1306.7" rx="15.8" ry="23.3"/><text x="501" y="1306.7">138795</text></g>
<g id="n138796"><ellipse cx="534.3" cy="1306.7" rx="15.8" ry="23.3"/><text x="534.3" y="1306.7">138796</text></g>
<g id="n138825"><ellipse cx="569" cy="1306.7" rx="15.8" ry="23.3"/><text x="569" y="1306.7">138825</text></g>
<g id="n138799"><ellipse cx="362.7" cy="1368.3" rx="15.8" ry="23.3"/><text x="362.7" y="1368.3">138799</text></g>
<g id="n138800"><ellipse cx="396.7" cy="1368.3" rx="15.8" ry="23.3"/><text x="396.7" y="1368.3">138800</text></g>
<g id="n138798"><ellipse cx="450.7" cy="1377.7" rx="15.8" ry="23.3"/><text x="450.7" y="1377.7">138798</text></g>
</g>

<g id="nodes-yg" class="yg">
<g id="n139630"><ellipse cx="721.4" cy="1219.3" rx="16" ry="23.3"/><text x="721.4" y="1219.3">139630</text></g>
<g id="n139991"><ellipse cx="680" cy="1266" rx="16" ry="23.3"/><text x="680" y="1266">139991</text></g>
<g id="n140082"><ellipse cx="731" cy="1266" rx="16" ry="23.3"/><text x="731" y="1266">140082</text></g>
<g id="n140605"><ellipse cx="725.7" cy="1312.7" rx="16" ry="23.3"/><text x="725.7" y="1312.7">140605</text></g>
<g id="n140784"><ellipse cx="798.2" cy="1264.3" rx="16" ry="23.3"/><text x="798.2" y="1264.3">140784</text></g>
<g id="n140560"><ellipse cx="681" cy="1385" rx="16" ry="23.3"/><text x="681" y="1385">140560</text></g>
</g>

<g id="nodes-peach" class="pe">
<g id="n140023"><ellipse cx="900.7" cy="1230.7" rx="17" ry="23.3"/><text x="900.7" y="1230.7">140023</text></g>
<g id="n140407"><ellipse cx="937.5" cy="1230.7" rx="17" ry="23.3"/><text x="937.5" y="1230.7">140407</text></g>
<g id="n140388"><ellipse cx="975.7" cy="1230.7" rx="17" ry="23.3"/><text x="975.7" y="1230.7">140388</text></g>
<g id="n140390"><ellipse cx="900.7" cy="1281.7" rx="17" ry="23.3"/><text x="900.7" y="1281.7">140390</text></g>
<g id="n140384"><ellipse cx="937.5" cy="1281.7" rx="17" ry="23.3"/><text x="937.5" y="1281.7">140384</text></g>
<g id="n140389"><ellipse cx="975.7" cy="1281.7" rx="17" ry="23.3"/><text x="975.7" y="1281.7">140389</text></g>
<g id="n140455"><ellipse cx="900.7" cy="1332.7" rx="17" ry="23.3"/><text x="900.7" y="1332.7">140455</text></g>
<g id="n140600"><ellipse cx="937.5" cy="1332.7" rx="17" ry="23.3"/><text x="937.5" y="1332.7">140600</text></g>
<g id="n140606"><ellipse cx="975.7" cy="1332.7" rx="17" ry="23.3"/><text x="975.7" y="1332.7">140606</text></g>
</g>

<g id="nodes-mint" class="mi">
<g id="n139532"><ellipse cx="1067.5" cy="1250" rx="17" ry="23.3"/><text x="1067.5" y="1250">139532</text></g>
<g id="n138378"><ellipse cx="1116" cy="1250" rx="17" ry="23.3"/><text x="1116" y="1250">138378</text></g>
<g id="n138952"><ellipse cx="1165" cy="1250" rx="17" ry="23.3"/><text x="1165" y="1250">138952</text></g>
<g id="n140080"><ellipse cx="1067.5" cy="1310.7" rx="17" ry="23.3"/><text x="1067.5" y="1310.7">140080</text></g>
<g id="n138949"><ellipse cx="1118.6" cy="1350" rx="17" ry="23.3"/><text x="1118.6" y="1350">138949</text></g>
</g>

<g id="nodes-aqua" class="aq">
<g id="n138454"><ellipse cx="90" cy="1499.3" rx="17" ry="23.3"/><text x="90" y="1499.3">138454</text></g>
<g id="n137710"><ellipse cx="138.2" cy="1499.3" rx="17" ry="23.3"/><text x="138.2" y="1499.3">137710</text></g>
<g id="n137026"><ellipse cx="188.2" cy="1499.3" rx="17" ry="23.3"/><text x="188.2" y="1499.3">137026</text></g>
<g id="n137117"><ellipse cx="223.2" cy="1499.3" rx="17" ry="23.3"/><text x="223.2" y="1499.3">137117</text></g>
<g id="n137819"><ellipse cx="187.1" cy="1550" rx="17" ry="23.3"/><text x="187.1" y="1550">137819</text></g>
<g id="n137818"><ellipse cx="223.2" cy="1550" rx="17" ry="23.3"/><text x="223.2" y="1550">137818</text></g>
<g id="n138306"><ellipse cx="274.6" cy="1550" rx="17" ry="23.3"/><text x="274.6" y="1550">138306</text></g>
<g id="n140813"><ellipse cx="319.6" cy="1550" rx="17" ry="23.3"/><text x="319.6" y="1550">140813</text></g>
<g id="n140790"><ellipse cx="353.6" cy="1550" rx="17" ry="23.3"/><text x="353.6" y="1550">140790</text></g>
<g id="n138435"><ellipse cx="73.2" cy="1600" rx="17" ry="23.3"/><text x="73.2" y="1600">138435</text></g>
<g id="n138434"><ellipse cx="107.9" cy="1600" rx="17" ry="23.3"/><text x="107.9" y="1600">138434</text></g>
<g id="n138231"><ellipse cx="141.8" cy="1600" rx="17" ry="23.3"/><text x="141.8" y="1600">138231</text></g>
<g id="n137817"><ellipse cx="186.4" cy="1600" rx="17" ry="23.3"/><text x="186.4" y="1600">137817</text></g>
<g id="n137748"><ellipse cx="223.2" cy="1600" rx="17" ry="23.3"/><text x="223.2" y="1600">137748</text></g>
<g id="n138176"><ellipse cx="187.1" cy="1651" rx="17" ry="23.3"/><text x="187.1" y="1651">138176</text></g>
<g id="n137749"><ellipse cx="223.2" cy="1651" rx="17" ry="23.3"/><text x="223.2" y="1651">137749</text></g>
<g id="n139965"><ellipse cx="273.9" cy="1651" rx="17" ry="23.3"/><text x="273.9" y="1651">139965</text></g>
<g id="n137756"><ellipse cx="187.1" cy="1701.7" rx="17" ry="23.3"/><text x="187.1" y="1701.7">137756</text></g>
<g id="n137825"><ellipse cx="223.2" cy="1701.7" rx="17" ry="23.3"/><text x="223.2" y="1701.7">137825</text></g>
</g>

<g id="nodes-gray" class="gr">
<g id="n140394"><ellipse cx="433.9" cy="1491.7" rx="17" ry="23.3"/><text x="433.9" y="1491.7">140394</text></g>
<g id="n140014"><ellipse cx="399.6" cy="1550" rx="17" ry="23.3"/><text x="399.6" y="1550">140014</text></g>
<g id="n140012"><ellipse cx="434.6" cy="1550" rx="17" ry="23.3"/><text x="434.6" y="1550">140012</text></g>
<g id="n139533"><ellipse cx="468.6" cy="1550" rx="17" ry="23.3"/><text x="468.6" y="1550">139533</text></g>
<g id="n139536"><ellipse cx="518.6" cy="1550" rx="17" ry="23.3"/><text x="518.6" y="1550">139536</text></g>
<g id="n140053"><ellipse cx="558.6" cy="1550" rx="17" ry="23.3"/><text x="558.6" y="1550">140053</text></g>
<g id="n140049"><ellipse cx="435.7" cy="1605" rx="17" ry="23.3"/><text x="435.7" y="1605">140049</text></g>
<g id="n140047"><ellipse cx="469.6" cy="1605" rx="17" ry="23.3"/><text x="469.6" y="1605">140047</text></g>
<g id="n140050"><ellipse cx="518.6" cy="1605" rx="17" ry="23.3"/><text x="518.6" y="1605">140050</text></g>
<g id="n140021"><ellipse cx="558.6" cy="1605" rx="17" ry="23.3"/><text x="558.6" y="1605">140021</text></g>
</g>

<g id="nodes-yellow" class="ye">
<g id="n140791"><ellipse cx="621.7" cy="1543.3" rx="17" ry="23.3"/><text x="621.7" y="1543.3">140791</text></g>
<g id="n140437"><ellipse cx="685.8" cy="1543.3" rx="17" ry="23.3"/><text x="685.8" y="1543.3">140437</text></g>
<g id="n140385"><ellipse cx="744.3" cy="1495" rx="17" ry="23.3"/><text x="744.3" y="1495">140385</text></g>
<g id="n140546"><ellipse cx="755.4" cy="1549.3" rx="17" ry="23.3"/><text x="755.4" y="1549.3">140546</text></g>
<g id="n140893"><ellipse cx="830.5" cy="1520" rx="17" ry="23.3"/><text x="830.5" y="1520">140893</text></g>
<g id="n140985"><ellipse cx="831.3" cy="1570" rx="17" ry="23.3"/><text x="831.3" y="1570">140985</text></g>
<g id="n141333"><ellipse cx="874.8" cy="1570" rx="17" ry="23.3"/><text x="874.8" y="1570">141333</text></g>
<g id="n141054"><ellipse cx="833.3" cy="1626.7" rx="17" ry="23.3"/><text x="833.3" y="1626.7">141054</text></g>
<g id="n141337"><ellipse cx="670.4" cy="1640.7" rx="17" ry="23.3"/><text x="670.4" y="1640.7">141337</text></g>
<g id="n140787"><ellipse cx="701.6" cy="1619.3" rx="17" ry="23.3"/><text x="701.6" y="1619.3">140787</text></g>
<g id="n140785"><ellipse cx="737.2" cy="1619.3" rx="17" ry="23.3"/><text x="737.2" y="1619.3">140785</text></g>
<g id="nks"><ellipse cx="772.8" cy="1619.3" rx="17" ry="23.3"/><text class="k" x="772.8" y="1619.3">경산</text></g>
<g id="n141218"><ellipse cx="701.6" cy="1667.7" rx="17" ry="23.3"/><text x="701.6" y="1667.7">141218</text></g>
<g id="n140638"><ellipse cx="738.4" cy="1667.7" rx="17" ry="23.3"/><text x="738.4" y="1667.7">140638</text></g>
<g id="n140804"><ellipse cx="774" cy="1667.7" rx="17" ry="23.3"/><text x="774" y="1667.7">140804</text></g>
</g>

<g id="nodes-photo" class="gg">
<g id="n137259"><ellipse cx="930.2" cy="1504.3" rx="17" ry="23.3"/><text x="930.2" y="1504.3">137259</text></g>
<g id="n138953"><ellipse cx="972.9" cy="1504.3" rx="17" ry="23.3"/><text x="972.9" y="1504.3">138953</text></g>
<g id="n139831"><ellipse cx="930.2" cy="1559.3" rx="17" ry="23.3"/><text x="930.2" y="1559.3">139831</text></g>
<g id="n139346"><ellipse cx="972.9" cy="1561" rx="17" ry="23.3"/><text x="972.9" y="1561">139346</text></g>
<g id="n139548"><ellipse cx="1029.8" cy="1546.7" rx="17" ry="23.3"/><text x="1029.8" y="1546.7">139548</text></g>
<g id="n139552"><ellipse cx="1029.8" cy="1593.3" rx="17" ry="23.3"/><text x="1029.8" y="1593.3">139552</text></g>
</g>

<g id="nodes-brown" class="br">
<g id="n140684"><ellipse cx="1106.1" cy="1502.7" rx="17" ry="23.3"/><text x="1106.1" y="1502.7">140684</text></g>
<g id="n140660"><ellipse cx="1142.9" cy="1502.7" rx="17" ry="23.3"/><text x="1142.9" y="1502.7">140660</text></g>
<g id="n140843"><ellipse cx="1180" cy="1502.7" rx="17" ry="23.3"/><text x="1180" y="1502.7">140843</text></g>
<g id="n140908b"><ellipse cx="1122.7" cy="1556.7" rx="17" ry="23.3"/><text x="1122.7" y="1556.7">140908</text></g>
<g id="n141305"><ellipse cx="1163.5" cy="1556.7" rx="17" ry="23.3"/><text x="1163.5" y="1556.7">141305</text></g>
</g>
</svg>
